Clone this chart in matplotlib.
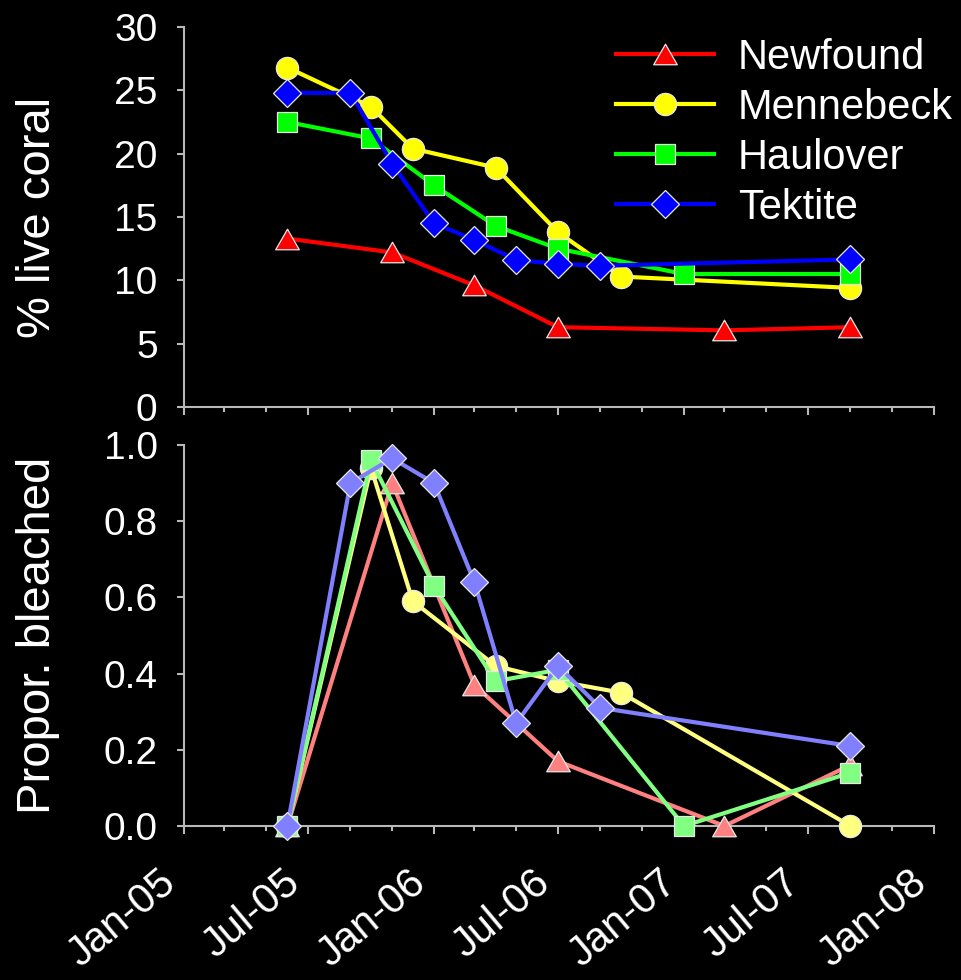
import matplotlib
matplotlib.use('Agg')
import matplotlib.pyplot as plt
import matplotlib.dates as mdates
from matplotlib.path import Path
from matplotlib.ticker import FormatStrFormatter
from datetime import datetime

plt.rcParams['font.family'] = ['Liberation Sans', 'DejaVu Sans']

# ---------------- data ----------------
sites = ['Newfound', 'Mennebeck', 'Haulover', 'Tektite']

newfound_dates = ['2005-06-01', '2005-11-01', '2006-03-01', '2006-07-01', '2007-03-01', '2007-09-01']
mennebeck_dates = ['2005-06-01', '2005-10-01', '2005-12-01', '2006-04-01', '2006-07-01', '2006-10-01', '2007-09-01']
haulover_dates = ['2005-06-01', '2005-10-01', '2006-01-01', '2006-04-01', '2006-07-01', '2007-01-01', '2007-09-01']
tektite_dates = ['2005-06-01', '2005-09-01', '2005-11-01', '2006-01-01', '2006-03-01', '2006-05-01',
                 '2006-07-01', '2006-09-01', '2007-09-01']

# % live coral
newfound_live = [13.3, 12.2, 9.6, 6.3, 6.05, 6.3]
mennebeck_live = [26.8, 23.7, 20.4, 18.9, 13.8, 10.3, 9.4]
haulover_live = [22.5, 21.2, 17.5, 14.3, 12.5, 10.5, 10.5]
tektite_live = [24.8, 24.8, 19.2, 14.5, 13.2, 11.6, 11.3, 11.15, 11.65]

# proportion bleached
newfound_bleach = [0.0, 0.90, 0.37, 0.17, 0.0, 0.16]
mennebeck_bleach = [0.0, 0.94, 0.59, 0.42, 0.38, 0.35, 0.0]
haulover_bleach = [0.0, 0.96, 0.63, 0.38, 0.41, 0.0, 0.14]
tektite_bleach = [0.0, 0.90, 0.965, 0.90, 0.64, 0.27, 0.42, 0.31, 0.21]

top_colors = ['#FF0000', '#FFFF00', '#00FF00', '#0000FF']
bottom_colors = ['#FF8080', '#FFFF80', '#80FF80', '#8080FF']

live_yticks = [0, 5, 10, 15, 20, 25, 30]
bleach_yticks = [0.0, 0.2, 0.4, 0.6, 0.8, 1.0]

# ---------------- style ----------------
tri = Path([(0, 1), (-1.15, -1), (1.15, -1), (0, 1)], closed=True)
markers = [tri, 'o', 's', 'D']
msizes = [17, 16, 15, 14]

def to_dt(lst):
    return [datetime.strptime(s, '%Y-%m-%d') for s in lst]

all_dates = [to_dt(newfound_dates), to_dt(mennebeck_dates), to_dt(haulover_dates), to_dt(tektite_dates)]
live = [newfound_live, mennebeck_live, haulover_live, tektite_live]
bleach = [newfound_bleach, mennebeck_bleach, haulover_bleach, tektite_bleach]

W, H = 961, 980
fig = plt.figure(figsize=(W / 100, H / 100), dpi=100, facecolor='black')

L, R = 184 / W, 934 / W
ax1 = fig.add_axes([L, 1 - 407 / H, R - L, (407 - 27) / H])
ax2 = fig.add_axes([L, 1 - 826 / H, R - L, (826 - 445) / H])

spine_c = '#b8b8b8'
for ax in (ax1, ax2):
    ax.set_facecolor('black')
    for s in ('top', 'right'):
        ax.spines[s].set_visible(False)
    for s in ('left', 'bottom'):
        ax.spines[s].set_color(spine_c)
        ax.spines[s].set_linewidth(1.5)
    ax.set_xlim(datetime(2005, 1, 1), datetime(2008, 1, 1))
    ax.xaxis.set_major_locator(mdates.MonthLocator(bymonth=[1, 7]))
    ax.xaxis.set_minor_locator(mdates.MonthLocator(bymonth=[3, 5, 9, 11]))
    ax.xaxis.set_major_formatter(mdates.DateFormatter('%b-%y'))
    ax.tick_params(axis='x', which='major', direction='out', length=6, width=1.5, color=spine_c)
    ax.tick_params(axis='x', which='minor', direction='out', length=3.5, width=1.5, color=spine_c)
    ax.tick_params(axis='y', which='major', direction='out', length=5, width=1.5, color=spine_c,
                   labelsize=28, labelcolor='white', pad=14)
    for sp in ax.spines.values():
        sp.set_zorder(0.5)

for i in range(4):
    ax1.plot(all_dates[i], live[i], color=top_colors[i], lw=3, marker=markers[i], ms=msizes[i],
             mfc=top_colors[i], mec='#e8e8e8', mew=0.9, label=sites[i], clip_on=False, zorder=3 + i)
    ax2.plot(all_dates[i], bleach[i], color=bottom_colors[i], lw=3, marker=markers[i], ms=msizes[i],
             mfc=bottom_colors[i], mec='#e8e8e8', mew=0.9, label=sites[i], clip_on=False, zorder=3 + i)

ax1.set_ylim(0, 30)
ax1.set_yticks(live_yticks)
ax1.tick_params(axis='x', labelbottom=False)

ax2.set_ylim(0, 1.0)
ax2.set_yticks(bleach_yticks)
ax2.yaxis.set_major_formatter(FormatStrFormatter('%.1f'))
ax2.tick_params(axis='x', which='major', labelsize=30, labelcolor='white', pad=20)
for lab in ax2.get_xticklabels():
    lab.set_rotation(40)
    lab.set_ha('right')

fig.text(38 / W, 1 - 217 / H, '% live coral', rotation=90, ha='center', va='center',
         color='white', fontsize=34)
fig.text(38 / W, 1 - 635 / H, 'Propor. bleached', rotation=90, ha='center', va='center',
         color='white', fontsize=34)

leg = ax1.legend(loc='upper left', bbox_to_anchor=(616 / W, 1 - 38 / H), bbox_transform=fig.transFigure,
                 frameon=False, fontsize=30, labelcolor='white', handlelength=2.35,
                 handletextpad=0.58, labelspacing=0.24, borderpad=0, borderaxespad=0, numpoints=1)

fig.savefig('out.png', dpi=100, facecolor='black')
